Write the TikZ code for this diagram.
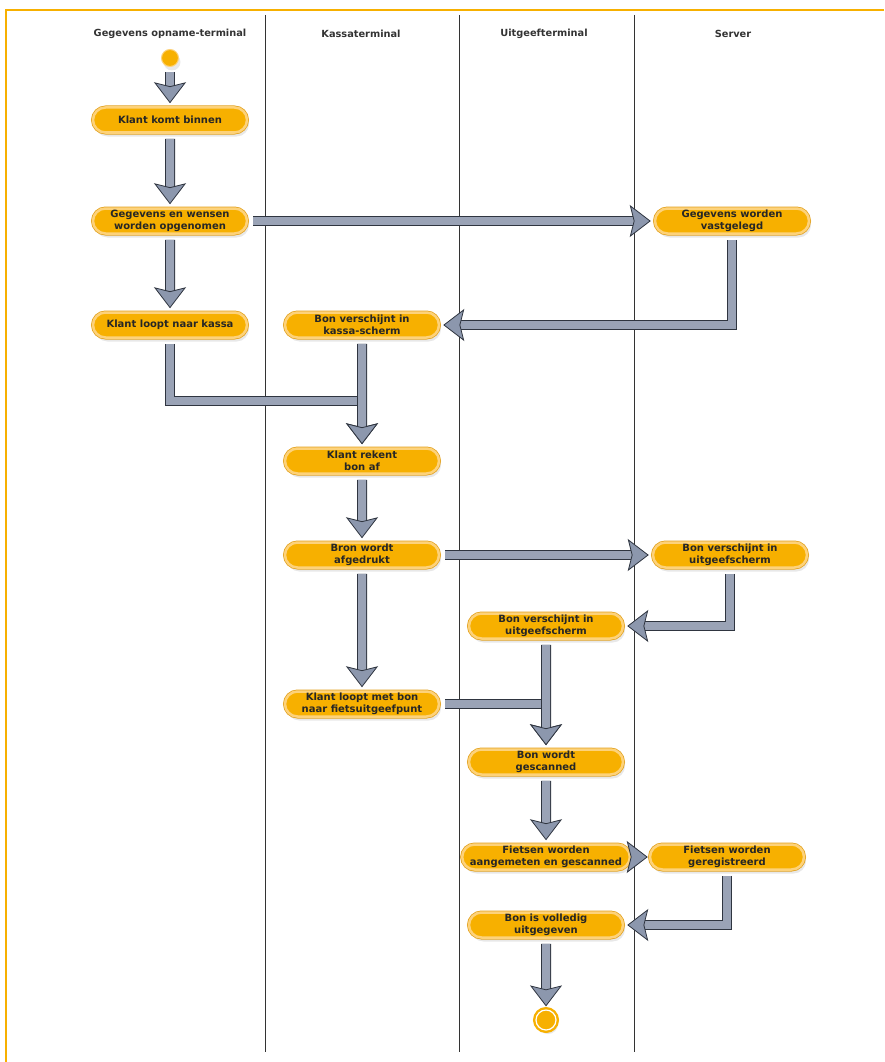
\documentclass[tikz,border=0pt]{standalone}
\usepackage{fontspec}
\setmainfont{DejaVu Sans}
\usetikzlibrary{arrows.meta,shapes.misc,shadows}

\definecolor{oranje}{HTML}{F7B000}
\definecolor{oranjelicht}{HTML}{FDD27A}
\definecolor{oranjerand}{HTML}{E2A11E}
\definecolor{balkvul}{HTML}{9AA3B6}
\definecolor{balkrand}{HTML}{2F3540}
\definecolor{kopvul}{HTML}{8C97AD}

\tikzset{
  schaduw/.style={drop shadow={opacity=0.18, shadow xshift=2pt, shadow yshift=-4pt}},
  actie/.style={rounded rectangle, minimum width=156pt, minimum height=25pt, inner sep=1pt,
    fill=oranje, draw=oranjelicht, line width=2.5pt, schaduw,
    preaction={draw=oranjerand, line width=4pt},
    font=\fontsize{10}{12.5}\selectfont\bfseries, text=black!85, align=center},
  kop/.style={font=\fontsize{9.8}{12}\selectfont\bfseries, text=black!80},
  baan/.style={draw=black!80, line width=0.8pt},
  begin/.style={circle, minimum size=17pt, inner sep=0pt, fill=oranje, draw=oranjelicht, line width=1pt, schaduw},
  einde/.style={circle, minimum size=20pt, inner sep=0pt, fill=oranje, draw=white, line width=1.2pt, schaduw,
    preaction={draw=oranje, line width=6pt}},
  pijl/.style={line width=8pt, draw=balkvul, shorten <=5pt, shorten >=3pt,
    -{Stealth[length=21pt, width=32pt, inset=4pt, fill=kopvul, color=balkrand, line width=0.8pt]}},
  balk/.style={pijl, preaction={draw=balkrand, line width=10pt, arrows=-, shorten >=20pt}},
}

\begin{document}
\begin{tikzpicture}[x=1pt, y=-1pt]
		\useasboundingbox (0,0) rectangle (884,1062);
		% rand
		\draw [oranje, line width=2.5pt] (884,10) -- (6,10) -- (6,1062);
		% banen
		\draw [baan] (265,15) -- (265,1052);
		\draw [baan] (459,15) -- (459,1052);
		\draw [baan] (634,15) -- (634,1052);
		\node [kop] (k1) at (170,34) {Gegevens opname-terminal};
		\node [kop] (k2) at (361,34) {Kassaterminal};
		\node [kop] (k3) at (544,34) {Uitgeefterminal};
		\node [kop] (k4) at (733,34) {Server};
		% Gegevens opname-terminal
		\node [begin] (start) at (170,58) {};
		\node [actie] (binnen) at (170,120) {Klant komt binnen};
		\node [actie] (wensen) at (170,221) {Gegevens en wensen\\worden opgenomen};
		\node [actie] (kassa) at (170,325) {Klant loopt naar kassa};
		% Kassaterminal
		\node [actie] (kscherm) at (362,325) {Bon verschijnt in\\kassa-scherm};
		\node [actie] (rekent) at (362,461) {Klant rekent\\bon af};
		\node [actie] (druk) at (362,555) {Bron wordt\\afgedrukt};
		\node [actie] (loopt) at (362,704) {Klant loopt met bon\\naar fietsuitgeefpunt};
		% Uitgeefterminal
		\node [actie] (uscherm) at (546,626) {Bon verschijnt in\\uitgeefscherm};
		\node [actie] (scan) at (546,762) {Bon wordt\\gescanned};
		\node [actie] (meten) at (546,857) {Fietsen worden\\aangemeten en gescanned};
		\node [actie] (klaar) at (546,925) {Bon is volledig\\uitgegeven};
		\node [einde] (eind) at (546,1020) {};
		% Server
		\node [actie] (vast) at (732,221) {Gegevens worden\\vastgelegd};
		\node [actie] (suit) at (730,555) {Bon verschijnt in\\uitgeefscherm};
		\node [actie] (reg) at (727,857) {Fietsen worden\\geregistreerd};
		% verbindingen
		\coordinate (j1) at (362,401);
		\draw [balk] (start) -- (binnen);
		\draw [balk] (binnen) -- (wensen);
		\draw [balk] (wensen) -- (kassa);
		\draw [balk] (wensen.east) -- (vast.west);
		\draw [balk] (vast.south) |- (kscherm.east);
		\draw [balk] (kassa.south) |- (j1) -- (rekent.north);
		\draw [balk] (kscherm) -- (rekent);
		\draw [balk] (rekent) -- (druk);
		\draw [balk] (druk) -- (loopt);
		\draw [balk] (druk.east) -- (suit.west);
		\draw [balk] (suit.south) |- (uscherm.east);
		\draw [balk] (loopt.east) -| (scan.north);
		\draw [balk] (uscherm) -- (scan);
		\draw [balk] (scan) -- (meten);
		\draw [pijl, shorten <=0pt, shorten >=1pt] (meten.east) -- (reg.west);
		\draw [balk] (reg.south) |- (klaar.east);
		\draw [balk] (klaar) -- (eind);
	\end{tikzpicture}
\end{document}
